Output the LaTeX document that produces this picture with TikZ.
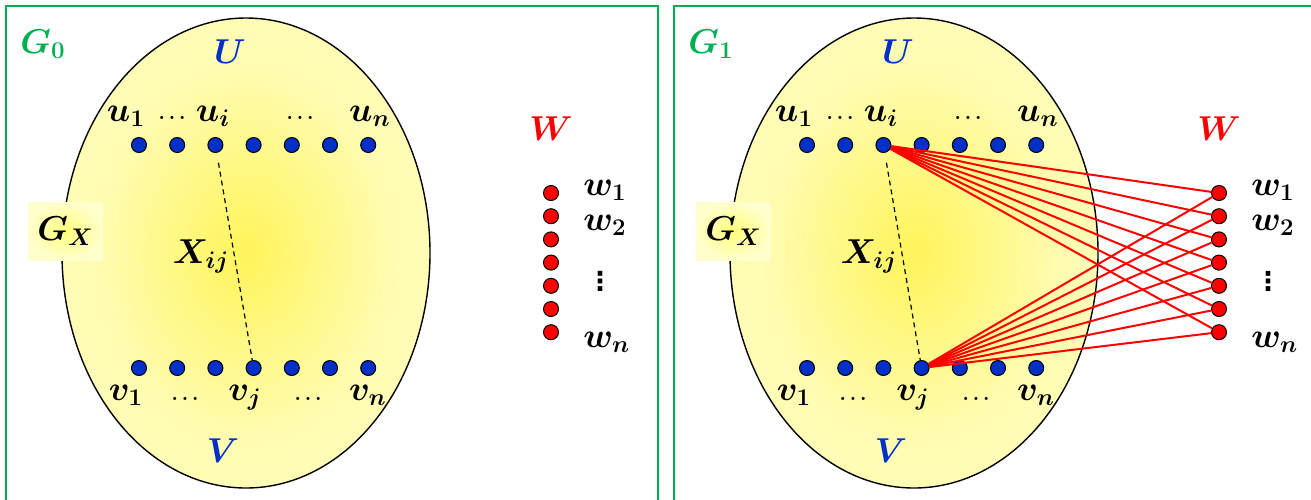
\documentclass[tikz,border=0pt]{standalone}
\usepackage{fontspec}
\usepackage{amsmath}
\usepackage{bm}
\usetikzlibrary{shapes,arrows}
\newfontfamily\dejavu{DejaVu Sans}
\definecolor{vert}{RGB}{0,176,80}
\definecolor{bleu}{RGB}{0,48,200}
\definecolor{rouge}{RGB}{255,0,0}
\definecolor{jaune}{RGB}{255,244,90}
\definecolor{jauneM}{RGB}{255,252,178}
\definecolor{jauneC}{RGB}{255,255,205}
\pgfdeclareradialshading{halo}{\pgfpoint{0bp}{0bp}}{color(0bp)=(jaune); color(20bp)=(jauneM); color(50bp)=(jauneC)}

\begin{document}
\begin{tikzpicture}[x=0.5pt,y=-0.5pt]
\tikzset{cadre/.style={draw=vert, line width=1pt},
	lbl/.style={font=\fontsize{18}{22}\selectfont, inner sep=0pt},
	pts/.style={font=\fontsize{10}{12}\selectfont, inner sep=0pt},
	pt/.style={circle, draw=black, line width=0.5pt, inner sep=0pt, minimum size=7.5pt},
	ptU/.style={pt, fill=bleu},
	ptW/.style={pt, fill=rouge},
	arete/.style={rouge, line width=1pt},
	pointille/.style={dashed, dash pattern=on 2.5pt off 2pt, line width=0.6pt, shorten <=5pt}}
\useasboundingbox (0,0) rectangle (1311,499);
% les deux cadres
\draw[cadre] (6,510) -- (6,6) -- (658,6) -- (658,510);
\draw[cadre] (674,510) -- (674,6) -- (1330,6);
\foreach \p/\dx in {0/0,1/668}{
\begin{scope}[shift={(\dx,0)}]
	\shadedraw[shading=halo, draw=black, line width=0.7pt] (246,253) ellipse [x radius=184, y radius=235];
	\node[lbl, anchor=base, text=vert] (g\p) at (43,53) {$\bm{G_{\p}}$};
	\node[lbl, anchor=base, text=bleu] (U\p) at (230,63) {$\bm{U}$};
	\node[lbl, anchor=base, text=bleu] (V\p) at (223,462) {$\bm{V}$};
	\node[lbl, anchor=base, text=rouge] (W\p) at (551,140) {$\bm{W}$};
	\node[lbl, minimum width=37.5pt, minimum height=29pt, shading=radial, inner color=yellow!40!jauneC, outer color=jauneC] (gx\p) at (65.5,231) {$\bm{G_X}$};
	% sommets
	\foreach \k in {1,...,7}{
		\node[ptU] (u\p-\k) at ({139+38.2*(\k-1)},145) {};
		\node[ptU] (v\p-\k) at ({139+38.2*(\k-1)},368) {};
		\node[ptW] (w\p-\k) at (551,{193+23.2*(\k-1)}) {};
	}
	% etiquettes
	\node[lbl, anchor=base] (lu1\p) at (126,121) {$\bm{u_1}$};
	\node[pts, anchor=base] (lud\p) at (172,119) {$\bm{\ldots}$};
	\node[lbl, anchor=base] (lui\p) at (213,121) {$\bm{u_i}$};
	\node[pts, anchor=base] (luf\p) at (300,119) {$\bm{\ldots}$};
	\node[lbl, anchor=base] (lun\p) at (370,121) {$\bm{u_n}$};
	\node[lbl, anchor=base] (lv1\p) at (126,400) {$\bm{v_1}$};
	\node[pts, anchor=base] (lvd\p) at (185,400) {$\bm{\ldots}$};
	\node[lbl, anchor=base] (lvj\p) at (245,400) {$\bm{v_j}$};
	\node[pts, anchor=base] (lvf\p) at (308,400) {$\bm{\ldots}$};
	\node[lbl, anchor=base] (lvn\p) at (368,400) {$\bm{v_n}$};
	\node[lbl, anchor=base] (x\p) at (201,263) {$\bm{X_{ij}}$};
	\node[lbl, anchor=base west] (lw1\p) at (583,195) {$\bm{w_1}$};
	\node[lbl, anchor=base west] (lw2\p) at (583,230) {$\bm{w_2}$};
	\node[font=\dejavu\bfseries\fontsize{13}{15}\selectfont, inner sep=0pt] (lwd\p) at (600,281) {⋮};
	\node[lbl, anchor=base west] (lwn\p) at (583,347) {$\bm{w_n}$};
	\draw[pointille] (u\p-3) -- (v\p-4);
\end{scope}
}
% aretes de G1
\foreach \k in {1,...,7}{
	\draw[arete] (u1-3) -- (w1-\k);
	\draw[arete] (v1-4) -- (w1-\k);
}
\end{tikzpicture}
\end{document}
